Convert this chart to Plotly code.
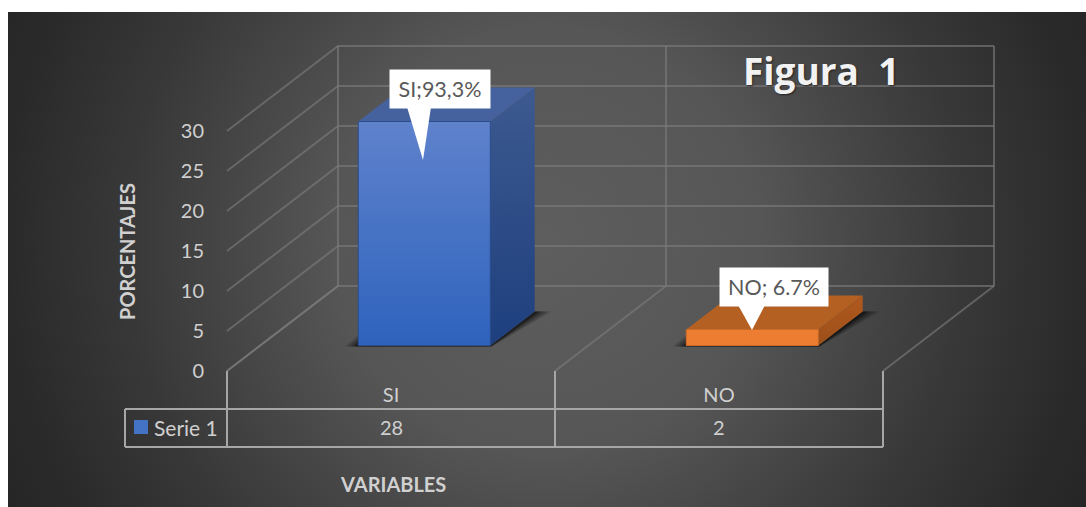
import base64
import plotly.graph_objects as go

# --- data ---
categories = ["SI", "NO"]
series_name = "Serie 1"
values = [28, 2]
y_ticks = [0, 5, 10, 15, 20, 25, 30]
callouts = ["SI;93,3%", "NO; 6.7%"]
title = "Figura  1"
x_title = "VARIABLES"
y_title = "PORCENTAJES"

# --- scale of the chart (pixels per data unit), oblique projection ---
W, H = 1086, 507
X0, Y0 = 227, 371          # pixel of the front-left floor corner
PX_CAT, PX_VAL = 328, 8    # pixels per category / per value unit
DEPTH_X, DEPTH_Y = 111, 85 # floor depth in pixels
FONT = "Lato"


def P(cat, val, depth=0.0):
    return cat + depth * DEPTH_X / PX_CAT, val + depth * DEPTH_Y / PX_VAL


def px(n):
    return n / PX_CAT


def pv(n):
    return n / PX_VAL


def poly(points, **kw):
    xs = [p[0] for p in points] + [points[0][0]]
    ys = [p[1] for p in points] + [points[0][1]]
    return go.Scatter(x=xs, y=ys, mode="lines", fill="toself", hoverinfo="skip", **kw)


def path(points, color, width=2):
    return go.Scatter(x=[p[0] for p in points], y=[p[1] for p in points], mode="lines",
                      line=dict(color=color, width=width), hoverinfo="skip")


fig = go.Figure()

# Real bars (front faces)
D0, D1 = 0.3, 0.7
BAR_W = 132 / PX_CAT
front_colors = ["#4472c4", "#ed7d31"]
cents = [0.5, 1.5]
bar_x = [P(c, 0, D0)[0] for c in cents]
fig.add_trace(go.Bar(x=bar_x, y=values, base=P(0, 0, D0)[1], width=BAR_W, name=series_name,
                     marker=dict(color=front_colors, line=dict(width=0)), hoverinfo="skip"))

# Walls
GRID = "rgba(125,125,125,0.62)"
for t in y_ticks:
    fig.add_trace(path([P(0, t), P(0, t, 1), P(2, t, 1)], GRID))
top = y_ticks[-1]
for c in (0, 1, 2):
    fig.add_trace(path([P(c, 0, 1), P(c, top, 1)], GRID))
    fig.add_trace(path([P(c, 0), P(c, 0, 1)], GRID))

# Bars in 3D
styles = [
    dict(front=("#5f82cc", "#2e63bd"), side=("#3d5a90", "#1e3f7e"), top="#45629f", edge="#2a4c8c"),
    dict(front=("#ed7d31", "#ed7d31"), side=("#b0591e", "#9c4f19"), top="#b56023", edge="#c96a28"),
]
for c, v, st in zip(cents, values, styles):
    l, r = c - 0.5 * BAR_W, c + 0.5 * BAR_W
    # soft contact shadow, behind the box
    for grow, alpha in ((17, 0.14), (13, 0.2), (8, 0.28), (4, 0.35)):
        g = px(grow)
        fig.add_trace(poly([
            (P(l, 0, D0)[0] - g * 0.8, P(0, 0, D0)[1] - pv(1)),
            (P(l, 0, D0)[0], P(0, 0, D0)[1] + pv(grow * 0.6)),
            P(l, 0, D0),
            P(r, 0, D0),
            P(r, 0, D1),
            (P(r, 0, D1)[0] + g, P(0, 0, D1)[1]),
            (P(r, 0, D0)[0] + g * 0.1, P(0, 0, D0)[1] - pv(1)),
        ], fillcolor=f"rgba(0,0,0,{alpha})", line=dict(width=0)))
    # side
    fig.add_trace(poly([P(r, 0, D0), P(r, 0, D1), P(r, v, D1), P(r, v, D0)],
                       fillgradient=dict(type="vertical",
                                         colorscale=[[0, st["side"][1]], [1, st["side"][0]]]),
                       line=dict(width=0)))
    # top
    fig.add_trace(poly([P(l, v, D0), P(r, v, D0), P(r, v, D1), P(l, v, D1)],
                       fillcolor=st["top"], line=dict(width=0)))
    # front overlay (gradient)
    fig.add_trace(poly([P(l, 0, D0), P(r, 0, D0), P(r, v, D0), P(l, v, D0)],
                       fillgradient=dict(type="vertical",
                                         colorscale=[[0, st["front"][1]], [1, st["front"][0]]]),
                       line=dict(width=1, color=st["edge"])))

# Callout pointers (relative to bar's top-front)
ptr = [
    dict(box=(440, 89), base=(407, 431), tip=(423, 160), y=107),
    dict(box=(774, 287), base=(738, 765), tip=(752, 330), y=305),
]


def pxy(xp, yp):
    return (xp - X0) / PX_CAT, (Y0 - yp) / PX_VAL


for p in ptr:
    fig.add_trace(poly([pxy(p["base"][0], p["y"]), pxy(p["base"][1], p["y"]), pxy(*p["tip"])],
                       fillcolor="#ffffff", line=dict(width=0)))

# Data table
TBL = "#a6a6a6"
r1, r2 = pv(-38), pv(-76)
lft = px(-102)
fig.add_trace(path([(lft, r1), (2, r1)], TBL))
fig.add_trace(path([(lft, r2), (2, r2)], TBL))
fig.add_trace(path([(lft, r1), (lft, r2)], TBL))
for c in (0, 1, 2):
    fig.add_trace(path([(c, 0), (c, r2)], TBL))
fig.add_trace(go.Scatter(x=[px(-86)], y=[pv(-56)], mode="markers", hoverinfo="skip",
                         marker=dict(symbol="square", size=14, color="#4472c4", line=dict(width=0))))

LABEL = "#d0d0d0"
ann = []
for c, v in zip(cents, values):
    ann.append(dict(x=c, y=pv(-56), text=str(v), showarrow=False,
                    font=dict(family=FONT, size=20, color=LABEL)))
ann.append(dict(x=px(-41), y=pv(-56), text=series_name, showarrow=False,
                font=dict(family=FONT, size=21, color=LABEL)))
ann.append(dict(x=px(166), y=pv(-113), text=x_title, showarrow=False,
                font=dict(family=FONT, size=20, color=LABEL, weight="bold")))
ann.append(dict(x=px(-100), y=pv(119), text=y_title, showarrow=False, textangle=-90,
                font=dict(family=FONT, size=20, color=LABEL, weight="bold")))
ann.append(dict(x=px(594), y=pv(301), text=title, showarrow=False,
                font=dict(family="Open Sans", size=37, color="#f2f2f2", weight="bold",
                          shadow="1px 1px 2px #222222")))
for text, p in zip(callouts, ptr):
    bx, by = pxy(*p["box"])
    ann.append(dict(x=bx, y=by, text=text, showarrow=False, bgcolor="#ffffff", borderpad=0,
                    width=100 if text.startswith("SI") else 108, height=38,
                    font=dict(family=FONT, size=21.5, color="#595959")))

# Background
stops = [(0, "#5e5e5e"), (212, "#565656"), (300, "#494949"), (420, "#383838"), (540, "#2a2a2a"), (620, "#242424")]
stop_svg = "".join(f'<stop offset="{d/620:.3f}" stop-color="{c}"/>' for d, c in stops)
svg = (f'<svg xmlns="http://www.w3.org/2000/svg" width="{W-8}" height="{H-12}" viewBox="8 12 {W-8} {H-12}">'
       f'<defs><radialGradient id="g" gradientUnits="userSpaceOnUse" cx="547" cy="240" r="620">{stop_svg}'
       f'</radialGradient></defs><rect x="8" y="12" width="{W-8}" height="{H-12}" fill="url(#g)"/></svg>')
src = "data:image/svg+xml;base64," + base64.b64encode(svg.encode()).decode()

fig.update_layout(
    width=W, height=H, margin=dict(l=0, r=0, t=0, b=0), autosize=False,
    paper_bgcolor="#ffffff", plot_bgcolor="rgba(0,0,0,0)", showlegend=False, barmode="overlay",
    annotations=ann,
    images=[dict(source=src, xref="paper", yref="paper", x=8 / W, y=1 - 12 / H,
                 sizex=1 - 8 / W, sizey=1 - 12 / H, sizing="stretch",
                 xanchor="left", yanchor="top", layer="below")],
    xaxis=dict(range=[-X0 / PX_CAT, (W - X0) / PX_CAT], anchor="free", position=(H - Y0) / H,
               tickmode="array", tickvals=cents, ticktext=categories, showgrid=False, zeroline=False,
               showline=False, ticks="outside", ticklen=6, tickcolor="rgba(0,0,0,0)",
               tickfont=dict(family=FONT, size=20, color=LABEL)),
    yaxis=dict(range=[(Y0 - H) / PX_VAL, Y0 / PX_VAL], anchor="free", position=X0 / W,
               tickmode="array", tickvals=y_ticks, showgrid=False, zeroline=False,
               showline=False, ticks="outside", ticklen=19, tickcolor="rgba(0,0,0,0)",
               tickfont=dict(family=FONT, size=20, color=LABEL)),
)

fig.write_html("out.html", config=dict(displayModeBar=False),
               post_script="document.body.style.margin='0';document.body.style.overflow='hidden';")
